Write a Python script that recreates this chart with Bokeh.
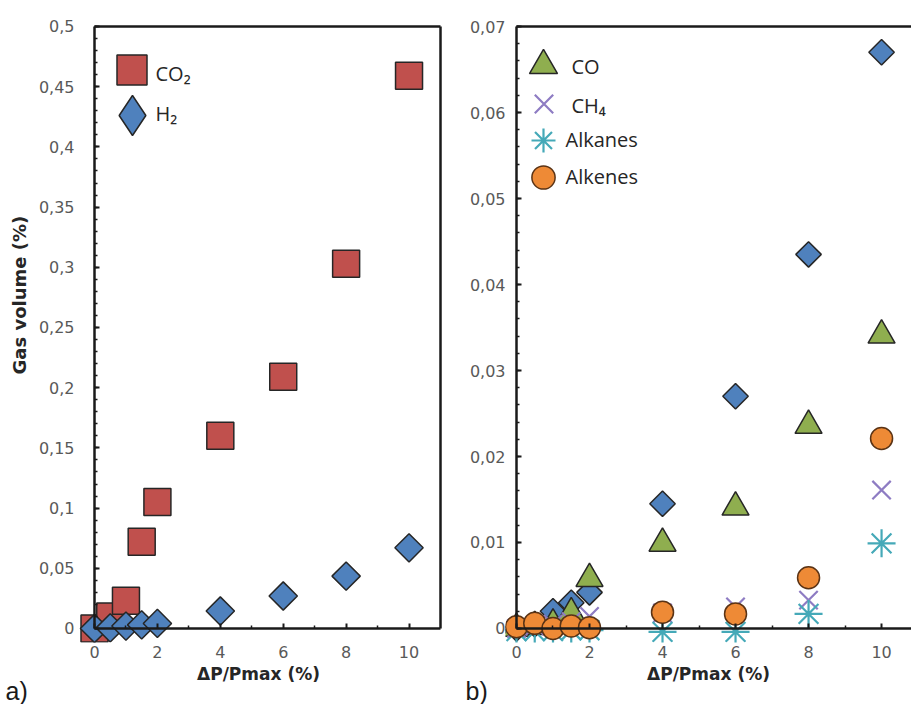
import math
from bokeh.plotting import figure
from bokeh.models import (FixedTicker, CustomJSTickFormatter, LinearAxis, Legend,
                          LegendItem, Label, Range1d, Title)
from bokeh.layouts import row
from bokeh.embed import file_html
from bokeh.resources import INLINE

# ---------------- data ----------------
x_vals = [0, 0.5, 1, 1.5, 2, 4, 6, 8, 10]
co2 = [0.0, 0.010, 0.023, 0.072, 0.105, 0.160, 0.209, 0.303, 0.459]
h2 = [0.0, 0.0005, 0.002, 0.003, 0.0042, 0.0145, 0.027, 0.0435, 0.067]
co = [0.0, 0.0002, 0.0005, 0.0018, 0.0058, 0.0099, 0.0141, 0.0236, 0.0341]
ch4 = [0.0, 0.0003, 0.0005, 0.0008, 0.0014, 0.0018, 0.0025, 0.0033, 0.0161]
alkanes = [-0.0003, -0.0003, -0.0003, -0.0002, -0.0002, -0.0004, -0.0004, 0.0017, 0.0099]
alkenes = [0.0002, 0.0006, 0.0, 0.0003, 0.0001, 0.0019, 0.0017, 0.0059, 0.0221]

x_ticks = [0, 2, 4, 6, 8, 10]
x_minor = [1, 3, 5, 7, 9]
left_y_ticks = [0, 0.05, 0.1, 0.15, 0.2, 0.25, 0.3, 0.35, 0.4, 0.45, 0.5]
left_y_minor = [round(0.01 * i, 2) for i in range(51)]
right_y_ticks = [0, 0.01, 0.02, 0.03, 0.04, 0.05, 0.06, 0.07]
right_y_minor = [round(0.002 * i, 3) for i in range(36)]

x_title = "ΔP/Pmax (%)"
y_title = "Gas volume (%)"

# ---------------- styles ----------------
TICK_FONT = "DejaVu Sans"
TICK_COLOR = "#595959"
AXIS_COLOR = "#1a1a1a"
LEG_FONT = "Open Sans"
LEG_COLOR = "#262626"
EDGE = "#262626"

FMT_CODE = """
let s = tick.toFixed(3);
s = s.replace(/0+$/, '').replace(/\\.$/, '');
return s.replace('.', ',');
"""


def blank_fmt():
    return CustomJSTickFormatter(code="return '';")


def line_axis(ticks, minor, loc, bounds):
    """Axis drawn at a data location: line and inward ticks, no labels."""
    ax = LinearAxis(ticker=FixedTicker(ticks=ticks, minor_ticks=minor),
                    fixed_location=loc, bounds=bounds, formatter=blank_fmt())
    ax.axis_line_color = AXIS_COLOR
    ax.axis_line_width = 2.5
    ax.major_tick_line_color = AXIS_COLOR if ticks else None
    ax.major_tick_line_width = 2
    ax.major_tick_in = 5
    ax.major_tick_out = 0
    ax.minor_tick_line_color = AXIS_COLOR if minor else None
    ax.minor_tick_line_width = 1.5
    ax.minor_tick_in = 3
    ax.minor_tick_out = 0
    ax.major_label_text_font_size = "1px"
    ax.major_label_standoff = 0
    return ax


def label_axis(ticks, standoff):
    """Axis at the frame edge that carries only the tick labels."""
    ax = LinearAxis(ticker=FixedTicker(ticks=ticks),
                    formatter=CustomJSTickFormatter(code=FMT_CODE))
    ax.axis_line_color = None
    ax.major_tick_line_color = None
    ax.minor_tick_line_color = None
    ax.major_tick_out = 0
    ax.major_tick_in = 0
    ax.major_label_text_font = TICK_FONT
    ax.major_label_text_font_size = "16px"
    ax.major_label_text_color = TICK_COLOR
    ax.major_label_standoff = standoff
    return ax


def base_fig(width, xr, yr, mb_left, mb_right):
    p = figure(width=width, height=704, x_range=xr, y_range=yr,
               x_axis_type=None, y_axis_type=None,
               output_backend="svg", toolbar_location=None,
               min_border_left=mb_left, min_border_right=mb_right,
               min_border_top=24, min_border_bottom=62)
    p.outline_line_color = None
    p.background_fill_color = "white"
    p.border_fill_color = "white"
    return p


def add_x_axes(p, x_end, panel_tag, tag_offset):
    xl = label_axis(x_ticks, 3)
    xl.bounds = (0, x_end)
    xl.axis_label = x_title
    xl.axis_label_text_font = "DejaVu Sans"
    xl.axis_label_text_font_style = "bold"
    xl.axis_label_text_font_size = "17px"
    xl.axis_label_text_color = "#262626"
    xl.axis_label_standoff = 3
    p.add_layout(xl, "below")
    p.add_layout(line_axis(x_ticks, x_minor, 0, (0, x_end)), "below")
    p.add_layout(Title(text=panel_tag, align="left", offset=tag_offset, standoff=-22,
                       vertical_align="middle", text_font="Liberation Sans",
                       text_font_size="25px", text_font_style="normal",
                       text_color="#1a1a1a"), "below")


def key(p, renderer, g, vx, vy):
    leg = Legend(items=[LegendItem(label="", renderers=[renderer])],
                 location=(vx, vy), glyph_width=g, glyph_height=g,
                 padding=0, margin=0, spacing=0, label_standoff=0, label_width=0,
                 border_line_color=None, background_fill_alpha=0,
                 label_text_font_size="1px")
    p.add_layout(leg)


def text(p, s, x, y):
    # x, y: pixels from the frame's lower-left corner
    p.add_layout(Label(x=x, y=y, x_units="screen", y_units="screen", text=s,
                       text_font=LEG_FONT, text_font_size="20px",
                       text_color=LEG_COLOR, text_align="left",
                       text_baseline="middle"))


# ---------------- left panel ----------------
X1_END = 11.064
p1 = base_fig(450, Range1d(-0.636, X1_END), Range1d(-0.011628, 0.50166), 74, 8)
add_x_axes(p1, 11, "a)", -69)
p1.add_layout(label_axis(left_y_ticks, 0), "left")
p1.add_layout(line_axis(left_y_ticks, left_y_minor, 0, (0, 0.5)), "left")
p1.add_layout(Title(text=y_title, align="left", offset=268, standoff=10,
                    vertical_align="middle", text_font="DejaVu Sans",
                    text_font_size="18px", text_font_style="bold",
                    text_color="#262626"), "left")
p1.add_layout(line_axis([], [], 0.5, (0, 11)), "above")
p1.add_layout(line_axis([], [], 11, (0, 0.5)), "right")

r_co2 = p1.scatter(x_vals, co2, marker="square", size=27, fill_color="#C0504D",
                   line_color=EDGE, line_width=1.5)
r_h2 = p1.scatter(x_vals, h2, marker="square", angle=math.pi / 4, size=20,
                  fill_color="#4F81BD", line_color=EDGE, line_width=1.5)
r_h2_key = p1.scatter(x_vals, h2, marker="diamond", size=20, fill_color="#4F81BD",
                      line_color=EDGE, line_width=1.5, visible=False)

key(p1, r_co2, 75, 19.5, 535.5)
key(p1, r_h2_key, 100, 8, 477)
text(p1, "CO₂", 81, 569)
text(p1, "H₂", 81, 529)

# ---------------- right panel ----------------
X2_END = 10.82
p2 = base_fig(461, Range1d(-0.301, X2_END), Range1d(-0.001628, 0.070233), 55, 0)
add_x_axes(p2, X2_END, "b)", -40)
p2.add_layout(label_axis(right_y_ticks, 0), "left")
p2.add_layout(line_axis(right_y_ticks, right_y_minor, 0, (0, 0.07)), "left")
p2.add_layout(line_axis([], [], 0.07, (0, X2_END)), "above")

r_h2b = p2.scatter(x_vals, h2, marker="square", angle=math.pi / 4, size=18,
                   fill_color="#4F81BD", line_color=EDGE, line_width=1.5)
r_co = p2.scatter(x_vals, co, marker="triangle", size=27, fill_color="#8FAE4F",
                  line_color=EDGE, line_width=1.5)
r_ch4 = p2.scatter(x_vals, ch4, marker="x", size=26, line_color="#8E7CC3",
                   line_width=2.2)
r_alk = p2.scatter(x_vals, alkanes, marker="asterisk", size=28, line_color="#45A9B8",
                   line_width=2.2)
r_ale = p2.scatter(x_vals, alkenes, marker="circle", size=22, fill_color="#EE8A36",
                   line_color="#5a3315", line_width=1.5)

key(p2, r_co, 70, 3, 542)
key(p2, r_ch4, 65, 5.5, 506.5)
key(p2, r_alk, 60, 8, 472)
key(p2, r_ale, 58, 9, 436)
text(p2, "CO", 66, 576)
text(p2, "CH₄", 66, 537)
text(p2, "Alkanes", 60, 503)
text(p2, "Alkenes", 60, 466)

layout = row(p1, p2, spacing=0)
open("out.html", "w").write(file_html(layout, INLINE))
